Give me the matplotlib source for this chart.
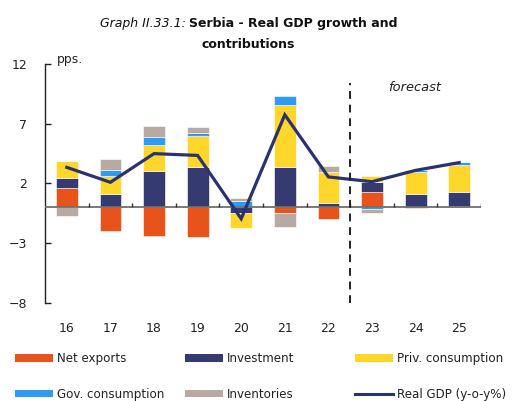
import numpy as np
import matplotlib
matplotlib.use('Agg')

import matplotlib.pyplot as plt
from matplotlib.patches import Patch
from matplotlib.lines import Line2D

# --- Données (contributions en points de %) ---
annees = ['16', '17', '18', '19', '20', '21', '22', '23', '24', '25']
exportations_nettes = [1.6, -1.95, -2.4, -2.45, 0.0, -0.45, -1.0, 1.3, -0.05, 0.1]
investissement = [0.85, 1.1, 3.05, 3.4, -0.45, 3.35, 0.4, 0.8, 1.1, 1.15]
conso_privee = [1.4, 1.55, 2.2, 2.55, -1.25, 5.2, 2.6, 0.55, 1.9, 2.3]
conso_publique = [0.0, 0.5, 0.6, 0.3, 0.5, 0.75, 0.0, -0.1, 0.15, 0.25]
stocks = [-0.7, 0.9, 1.0, 0.5, 0.3, -1.15, 0.5, -0.4, 0.0, 0.0]
pib_reel = [3.35, 2.1, 4.5, 4.35, -0.95, 7.75, 2.55, 2.15, 3.1, 3.75]

series = [
    ('Net exports', exportations_nettes, '#E8521B'),
    ('Investment', investissement, '#353A70'),
    ('Priv. consumption', conso_privee, '#FFD62A'),
    ('Gov. consumption', conso_publique, '#2E9CF4'),
    ('Inventories', stocks, '#B8AAA2'),
]
COULEUR_PIB = '#2B3270'
TAILLE = 8.6

W, H = 514, 401
fig = plt.figure(figsize=(W / 100, H / 100), dpi=100)
ax = fig.add_axes([45 / W, 1 - 303 / H, (481 - 45) / W, (303 - 64) / H])

x = np.arange(len(annees))
base_pos = np.zeros(len(annees))
base_neg = np.zeros(len(annees))
for nom, valeurs, couleur in series:
    v = np.array(valeurs)
    bas = np.where(v >= 0, base_pos, base_neg)
    ax.bar(x, v, width=0.5, bottom=bas, color=couleur,
           edgecolor='white', linewidth=0.4, zorder=2)
    base_pos += np.where(v >= 0, v, 0)
    base_neg += np.where(v < 0, v, 0)

ax.plot(x, pib_reel, color=COULEUR_PIB, linewidth=2.3, zorder=4,
        solid_joinstyle='miter')

# ligne zéro avec petites graduations entre les années
ax.axhline(0, color='#6f6f6f', linewidth=1.3, zorder=3)
ax.vlines(np.arange(len(annees)) + 0.5, 0, 0.35, color='#333333',
          linewidth=1.0, zorder=3)

# séparation prévision
ax.vlines(6.5, -8, 10.4, color='#222222', linewidth=1.4,
          linestyles=(0, (4, 3)), zorder=5)
ax.text(7.97, 10.0, 'forecast', style='italic', fontsize=9.4,
        ha='center', va='center', color='#222222')

ax.set_xlim(-0.5, 9.5)
ax.set_ylim(-8, 12)
ax.set_yticks([12, 7, 2, -3, -8])
ax.set_xticks(x)
ax.set_xticklabels(annees)
ax.tick_params(axis='y', direction='in', length=4, width=1, labelsize=TAILLE + 0.4,
               pad=13, colors='#222222')
ax.tick_params(axis='x', length=0, labelsize=TAILLE + 0.4, pad=14, colors='#222222')
for cote in ['top', 'right', 'bottom']:
    ax.spines[cote].set_visible(False)
ax.spines['left'].set_color('#222222')
ax.spines['left'].set_linewidth(1.0)
ax.text(57 / W, 1 - 60 / H, 'pps.', transform=fig.transFigure,
        fontsize=TAILLE + 0.3, va='center', ha='left', color='#222222')

# titre
fig.text(186 / W, 1 - 24 / H, 'Graph II.33.1:', style='italic', fontsize=9.0,
         ha='right', va='center', color='#111111')
fig.text(189 / W, 1 - 24 / H, 'Serbia - Real GDP growth and', weight='bold',
         fontsize=9.0, ha='left', va='center', color='#111111')
fig.text(248 / W, 1 - 44 / H, 'contributions', weight='bold', fontsize=9.0,
         ha='center', va='center', color='#111111')

# légende en trois colonnes
poignees = {nom: Patch(facecolor=c, edgecolor='none') for nom, _, c in series}
poignees['Real GDP (y-o-y%)'] = Line2D([], [], color=COULEUR_PIB, linewidth=2.2)
colonnes = [
    (15, ['Net exports', 'Gov. consumption']),
    (185, ['Investment', 'Inventories']),
    (355, ['Priv. consumption', 'Real GDP (y-o-y%)']),
]
for x0, noms in colonnes:
    leg = fig.legend([poignees[n] for n in noms], noms,
                     loc='upper left', bbox_to_anchor=(x0 / W, 1 - 352 / H),
                     frameon=False, fontsize=TAILLE, borderaxespad=0,
                     borderpad=0, handlelength=3.2, handleheight=0.65,
                     handletextpad=0.3, labelspacing=1.9)
    for t in leg.get_texts():
        t.set_color('#222222')

plt.savefig('out.png', dpi=100)
plt.close()
